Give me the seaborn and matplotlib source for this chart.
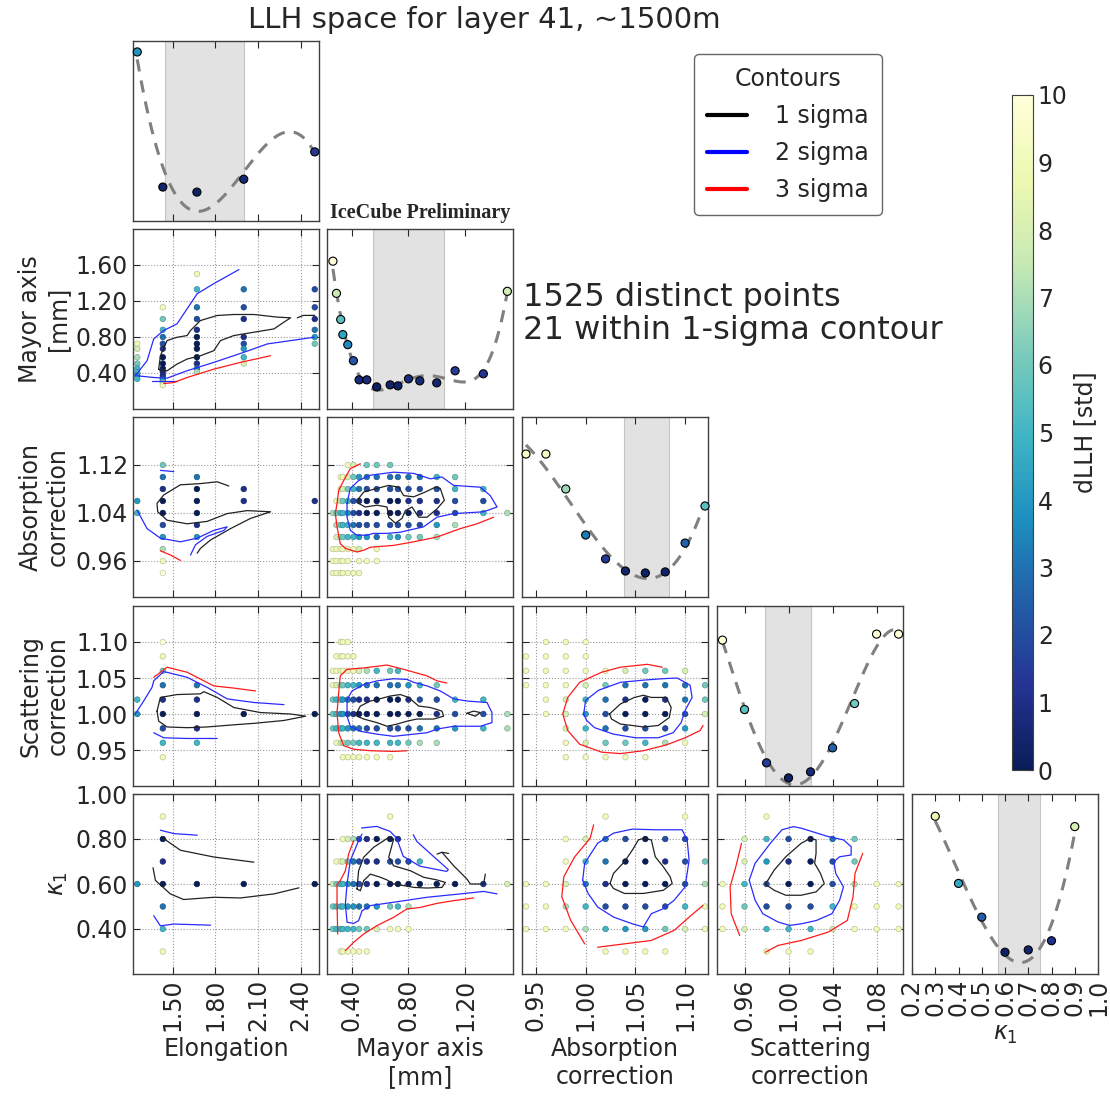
import numpy as np
import pandas as pd
import matplotlib
matplotlib.use("Agg")
import matplotlib.pyplot as plt
import seaborn as sns
from matplotlib.lines import Line2D
from matplotlib.ticker import FormatStrFormatter

# ---------------- parameter grids ----------------
elong = [1.25, 1.43, 1.67, 2.0, 2.5]
mayor = [0.265, 0.29, 0.32, 0.335, 0.37, 0.41, 0.45, 0.505, 0.575, 0.67,
         0.725, 0.80, 0.88, 1.0, 1.13, 1.33, 1.5]
absorp = [0.94, 0.96, 0.98, 1.00, 1.02, 1.04, 1.06, 1.08, 1.10, 1.12]
scatt = [0.94, 0.96, 0.98, 1.00, 1.02, 1.04, 1.06, 1.08, 1.10]
kappa = [0.3, 0.4, 0.5, 0.6, 0.7, 0.8, 0.9]

# ---------------- 1D profiles (dLLH) ----------------
elong_prof = [3.89, 0.43, 0.3, 0.63, 1.33]
mayor_prof = [10.2, 7.64, 5.56, 4.36, 3.56, 2.28, 0.76, 0.76, 0.2, 0.36,
              0.28, 0.84, 0.68, 0.52, 1.48, 1.24, 7.8]
absorp_prof = [9.45, 9.45, 6.76, 3.22, 1.38, 0.45, 0.3, 0.38, 2.6, 5.45]
scatt_prof = [10.84, 5.53, 1.45, 0.3, 0.76, 2.6, 5.99, 11.3, 11.3]
kappa_prof = [8.6, 4.5, 2.44, 0.3, 0.44, 1.0, 7.97]

# 1-sigma intervals (shaded band)
elong_1s = (1.447, 2.0)
mayor_1s = (0.55, 1.05)
absorp_1s = (1.039, 1.084)
scatt_1s = (0.979, 1.02)
kappa_1s = (0.571, 0.749)

# ---------------- 2D tables, rows from top (high y) to bottom ----------------
elong_mayor = [
    "- - 9 - -", "- - 5 3 2", "- 9 3 2 2", "- 6 2 1 1", "- 5 1 - 3",
    "- 3 0 1 4", "9 2 0 2 6", "8 1 0 4 -", "7 0 0 5 -", "6 0 1 8 -",
    "5 0 3 - -", "5 1 7 - -", "4 1 - - -", "5 2 - - -", "- 4 - - -",
    "- 7 - - -", "- 9 - - -"]
elong_absorp = [
    "- 6 - - -", "- 3 3 - -", "- 1 0 1 -", "4 0 0 1 1", "5 0 0 - -",
    "- 2 1 - -", "- 4 4 - -", "- 7 - - -", "- 9 - - -", "- 10 - - -"]
elong_scatt = [
    "- 10 - - -", "- 9 - - -", "- 6 - - -", "- 3 3 - -", "5 1 1 - -",
    "4 0 0 0 0", "- 2 1 - -", "- 5 5 - -", "- 9 - - -"]
elong_kappa = [
    "- 9 - - -", "- 0 - - -", "- 1 - - -", "4 0 0 0 0", "- 3 - - -",
    "- 5 - - -", "- 9 - - -"]
mayor_absorp = [
    "- - - - 9 8 - 6 6 6 - - - - - - -",
    "- - 9 9 8 6 4 3 3 3 3 3 3 5 6 - -",
    "- - 9 8 6 5 3 2 2 2 2 2 2 2 5 5 -",
    "- 9 8 6 5 2 1 0 0 0 0 1 1 1 2 2 -",
    "7 6 5 5 4 2 1 0 0 0 0 0 1 1 2 5 7",
    "- 7 6 5 5 3 2 2 2 2 2 2 2 4 7 - -",
    "- 8 7 6 5 5 4 4 3 5 4 6 6 7 - - -",
    "9 9 9 9 9 9 8 - 9 - - - - - - - -",
    "9 9 9 9 9 - 9 9 9 - - - - - - - -",
    "9 9 9 9 9 9 9 - - - - - - - - - -"]
mayor_scatt = [
    "- - 9 9 9 - - - - - - - - - - - -",
    "- 9 9 9 9 9 - - - - - - - - - - -",
    "9 9 9 9 9 9 8 7 5 6 5 - - - - - -",
    "9 8 7 6 5 5 4 3 3 3 3 4 5 6 - - -",
    "6 5 5 4 3 2 1 1 0 0 0 1 2 2 5 5 -",
    "6 5 4 4 2 1 0 0 0 0 0 0 0 1 2 2 7",
    "6 5 5 5 4 3 3 2 2 2 2 2 3 3 4 5 7",
    "- 9 8 7 6 6 5 5 5 5 5 6 7 7 - - -",
    "- - - 9 9 9 9 9 9 9 - - - - - - -"]
mayor_kappa = [
    "- - - - - - - - - 9 - - - - - - -",
    "- - - 9 8 7 2 1 0 0 1 - - - - - -",
    "- 9 9 8 6 3 2 1 1 2 2 2 5 - - - -",
    "8 6 5 5 4 3 2 1 0 0 0 0 0 0 0 1 8",
    "6 5 5 5 4 4 3 3 4 6 5 7 - - - - -",
    "6 5 5 5 5 5 6 6 8 9 9 9 - - - - -",
    "- - 9 9 9 9 9 9 - - - - - - - - -"]
absorp_scatt = [
    "- 9 9 9 - - - - - -", "9 9 9 9 - - - - - -", "9 9 9 9 9 8 6 6 8 -",
    "9 9 9 8 6 3 3 3 3 6", "- 9 8 5 3 1 0 1 3 6", "- 9 8 4 2 0 0 0 2 8",
    "- - 8 5 3 2 2 2 4 -", "- - 9 8 6 6 5 7 9 -", "- - 9 9 9 9 9 - - -"]
absorp_kappa = [
    "- - - - 9 - - - 9 -", "- - 9 8 3 2 0 2 2 -", "- - 9 5 3 0 0 1 2 6",
    "9 9 8 3 1 0 0 0 2 7", "9 9 7 5 2 2 2 2 5 9", "9 9 9 7 5 4 4 6 8 9",
    "- - - - 9 9 9 9 - -"]
scatt_kappa = [
    "- - 9 - - - - - -", "- 8 5 2 0 3 6 - -", "- 8 4 1 0 2 6 - -",
    "9 5 2 0 0 2 7 9 9", "9 6 2 2 2 5 9 9 9", "9 8 5 5 5 8 9 9 9",
    "- - 9 9 9 - - - -"]

# ---------------- contour traces (level -> polylines) ----------------
cont_elong_mayor = [
    (1, [(1.401, 0.443), (1.413, 0.592), (1.46, 0.76), (1.53, 0.797), (1.601, 0.816),
         (1.625, 0.872), (1.695, 0.983), (1.813, 1.039), (1.93, 1.05), (2.071, 1.05),
         (2.236, 1.021), (2.33, 1.013), (2.283, 0.965), (2.213, 0.89), (2.071, 0.853),
         (1.93, 0.816), (1.836, 0.76), (1.789, 0.648), (1.695, 0.592), (1.601, 0.555),
         (1.53, 0.499), (1.46, 0.425), (1.413, 0.425), (1.401, 0.443)]),
    (1, [(2.377, 1.013), (2.42, 1.04), (2.5, 1.04)]),
    (2, [(1.236, 0.369), (1.319, 0.536), (1.366, 0.779), (1.436, 0.872), (1.53, 0.946),
         (1.625, 1.17), (1.672, 1.281), (1.789, 1.393), (1.966, 1.549)]),
    (2, [(1.248, 0.369), (1.366, 0.35), (1.46, 0.343), (1.601, 0.425), (1.789, 0.518),
         (2.001, 0.63), (2.166, 0.723), (2.33, 0.76), (2.495, 0.797)]),
    (2, [(1.354, 0.313), (1.53, 0.313)]),
    (3, [(1.436, 0.283), (1.507, 0.294), (1.601, 0.35), (1.789, 0.443), (1.977, 0.518),
         (2.189, 0.592)]),
]
cont_elong_absorp = [
    (1, [(1.895, 1.085), (1.813, 1.092), (1.695, 1.089), (1.554, 1.087), (1.436, 1.07),
         (1.389, 1.056), (1.394, 1.042), (1.46, 1.028), (1.601, 1.022), (1.742, 1.026),
         (1.883, 1.039), (2.024, 1.044), (2.189, 1.042), (2.048, 1.031), (1.907, 1.014),
         (1.766, 0.995), (1.695, 0.981), (1.672, 0.973)]),
    (2, [(1.248, 1.045), (1.319, 1.014), (1.413, 0.998), (1.554, 0.992), (1.672, 0.998),
         (1.789, 1.011), (1.883, 1.017), (1.86, 1.011), (1.742, 1.001), (1.66, 0.987),
         (1.625, 0.970)]),
    (2, [(1.413, 1.111), (1.507, 1.109)]),
    (3, [(1.413, 0.977), (1.483, 0.97), (1.554, 0.961)]),
]
cont_elong_scatt = [
    (1, [(1.389, 1.004), (1.413, 1.023), (1.53, 1.027), (1.695, 1.028), (1.719, 1.031),
         (1.813, 1.023), (1.93, 1.009), (2.118, 1.002), (2.33, 1.0), (2.436, 0.997),
         (2.283, 0.991), (2.071, 0.987), (1.93, 0.985), (1.742, 0.982), (1.601, 0.981),
         (1.46, 0.982), (1.401, 0.990), (1.389, 1.004)]),
    (2, [(1.236, 1.0), (1.295, 1.018), (1.354, 1.037), (1.366, 1.046), (1.436, 1.059),
         (1.601, 1.051), (1.742, 1.037), (1.883, 1.021), (2.071, 1.016), (2.283, 1.013)]),
    (2, [(1.366, 0.974), (1.436, 0.967), (1.601, 0.966), (1.813, 0.966)]),
    (3, [(1.366, 1.051), (1.46, 1.065), (1.601, 1.058), (1.789, 1.039), (1.93, 1.036),
         (2.083, 1.032)]),
]
cont_elong_kappa = [
    (1, [(1.436, 0.802), (1.554, 0.75), (1.789, 0.72), (2.071, 0.697)]),
    (1, [(1.361, 0.672), (1.378, 0.616), (1.483, 0.556), (1.577, 0.531), (1.789, 0.541),
         (1.977, 0.538), (2.213, 0.556), (2.389, 0.583)]),
    (2, [(1.413, 0.839), (1.507, 0.824), (1.672, 0.817)]),
    (2, [(1.366, 0.459), (1.413, 0.414), (1.507, 0.422), (1.766, 0.417)]),
]
cont_mayor_absorp = [
    (1, [(0.447, 1.064), (0.483, 1.075), (0.577, 1.081), (0.66, 1.086), (0.73, 1.083),
         (0.766, 1.069), (0.837, 1.067), (0.919, 1.075), (0.99, 1.083), (1.025, 1.081),
         (1.054, 1.061), (1.002, 1.047), (0.931, 1.033), (0.872, 1.033), (0.825, 1.05),
         (0.778, 1.044), (0.754, 1.031), (0.707, 1.023), (0.66, 1.033), (0.648, 1.05),
         (0.577, 1.053), (0.494, 1.05), (0.447, 1.056), (0.447, 1.064)]),
    (2, [(0.365, 1.056), (0.388, 1.081), (0.447, 1.094), (0.53, 1.103), (0.695, 1.108),
         (0.837, 1.106), (0.955, 1.097), (1.037, 1.1), (1.12, 1.086), (1.309, 1.083),
         (1.379, 1.069), (1.427, 1.05), (1.332, 1.042), (1.12, 1.039), (1.002, 1.033),
         (0.907, 1.017), (0.742, 1.008), (0.648, 1.006), (0.553, 1.006), (0.506, 1.003),
         (0.435, 1.003), (0.388, 1.011), (0.365, 1.033), (0.365, 1.056)]),
    (3, [(0.459, 1.122), (0.388, 1.114), (0.341, 1.094), (0.306, 1.078), (0.294, 1.056),
         (0.282, 1.039), (0.294, 1.017), (0.317, 0.989), (0.353, 0.981), (0.435, 0.975),
         (0.483, 0.978), (0.53, 0.983), (0.695, 0.986), (0.837, 0.992), (1.002, 1.0),
         (1.167, 1.014), (1.285, 1.022), (1.403, 1.033)]),
]
cont_mayor_scatt = [
    (1, [(0.435, 1.002), (0.459, 1.011), (0.53, 1.018), (0.577, 1.02), (0.671, 1.025),
         (0.742, 1.027), (0.801, 1.023), (0.872, 1.011), (0.955, 1.009), (1.037, 1.004),
         (1.049, 0.997), (0.978, 0.993), (0.86, 0.993), (0.789, 0.99), (0.719, 0.986),
         (0.648, 0.983), (0.577, 0.988), (0.483, 0.993), (0.435, 0.997), (0.435, 1.002)]),
    (1, [(1.214, 1.001), (1.261, 1.004), (1.309, 1.002), (1.273, 0.997), (1.214, 1.001)]),
    (2, [(0.365, 0.997), (0.365, 1.02), (0.4, 1.032), (0.483, 1.041), (0.577, 1.046),
         (0.695, 1.049), (0.789, 1.048), (0.837, 1.044), (0.931, 1.039), (1.025, 1.032),
         (1.12, 1.021), (1.214, 1.018), (1.356, 1.016), (1.391, 1.002), (1.391, 0.988),
         (1.309, 0.983), (1.12, 0.983), (1.002, 0.979), (0.931, 0.974), (0.695, 0.969),
         (0.577, 0.972), (0.459, 0.976), (0.388, 0.983), (0.365, 0.997)]),
    (3, [(1.072, 1.043), (1.002, 1.046), (0.931, 1.053), (0.766, 1.062), (0.648, 1.068),
         (0.483, 1.064), (0.365, 1.062), (0.317, 1.053), (0.306, 1.03), (0.294, 1.002),
         (0.306, 0.974), (0.341, 0.956), (0.412, 0.951), (0.53, 0.949), (0.695, 0.948),
         (0.789, 0.949)]),
]
cont_mayor_kappa = [
    (1, [(0.435, 0.578), (0.447, 0.659), (0.483, 0.719), (0.553, 0.763), (0.66, 0.807),
         (0.695, 0.8), (0.66, 0.719), (0.695, 0.681), (0.813, 0.659), (0.907, 0.63),
         (1.002, 0.618), (1.061, 0.607), (1.037, 0.585), (0.931, 0.582), (0.837, 0.585),
         (0.766, 0.593), (0.695, 0.6), (0.648, 0.618), (0.601, 0.63), (0.53, 0.644),
         (0.483, 0.615), (0.459, 0.57), (0.435, 0.578)]),
    (1, [(1.037, 0.741), (1.12, 0.681), (1.214, 0.622), (1.238, 0.6), (1.332, 0.6),
         (1.344, 0.644)]),
    (1, [(1.002, 0.733), (1.037, 0.741), (1.084, 0.736)]),
    (2, [(0.468, 0.849), (0.575, 0.856), (0.669, 0.834), (0.716, 0.804), (0.763, 0.723),
         (0.881, 0.679), (1.07, 0.656), (1.082, 0.664), (0.976, 0.723), (0.858, 0.79),
         (0.834, 0.819)]),
    (2, [(0.471, 0.822), (0.447, 0.793), (0.388, 0.704), (0.365, 0.6), (0.353, 0.511),
         (0.365, 0.43), (0.412, 0.425), (0.447, 0.437), (0.471, 0.481), (0.53, 0.504),
         (0.695, 0.519), (0.931, 0.541), (1.167, 0.556), (1.332, 0.567), (1.427, 0.556)]),
    (3, [(0.412, 0.793), (0.376, 0.733), (0.353, 0.659), (0.317, 0.615), (0.294, 0.6),
         (0.294, 0.511), (0.299, 0.378)]),
    (3, [(0.353, 0.304), (0.388, 0.326), (0.412, 0.341), (0.483, 0.378), (0.577, 0.415),
         (0.695, 0.452), (0.789, 0.489), (0.884, 0.496), (1.002, 0.514), (1.12, 0.526),
         (1.261, 0.538)]),
]
cont_absorp_scatt = [
    (1, [(1.024, 1.0), (1.035, 1.014), (1.049, 1.023), (1.058, 1.026), (1.066, 1.023),
         (1.081, 1.023), (1.086, 1.009), (1.084, 0.995), (1.073, 0.984), (1.058, 0.982),
         (1.047, 0.984), (1.035, 0.986), (1.026, 0.993), (1.024, 1.0)]),
    (2, [(0.998, 1.0), (1.0, 1.019), (1.013, 1.033), (1.035, 1.044), (1.058, 1.047),
         (1.077, 1.049), (1.092, 1.05), (1.105, 1.04), (1.107, 1.023), (1.1, 1.005),
         (1.096, 0.988), (1.088, 0.974), (1.073, 0.967), (1.05, 0.967), (1.028, 0.972),
         (1.009, 0.981), (1.001, 0.991), (0.998, 1.0)]),
    (3, [(1.077, 1.065), (1.062, 1.069), (1.035, 1.065), (1.016, 1.058), (0.994, 1.044),
         (0.982, 1.023), (0.977, 1.0), (0.982, 0.977), (0.994, 0.958), (1.016, 0.947),
         (1.035, 0.945), (1.058, 0.949), (1.081, 0.957), (1.1, 0.967), (1.115, 0.977),
         (1.118, 0.984)]),
]
cont_absorp_kappa = [
    (1, [(1.0245, 0.602), (1.028, 0.647), (1.039, 0.699), (1.047, 0.751), (1.053, 0.796),
         (1.058, 0.803), (1.066, 0.796), (1.07, 0.721), (1.078, 0.677), (1.085, 0.632),
         (1.087, 0.602), (1.078, 0.572), (1.058, 0.558), (1.039, 0.558), (1.028, 0.58),
         (1.0245, 0.602)]),
    (2, [(0.997, 0.617), (0.999, 0.692), (1.012, 0.781), (1.028, 0.826), (1.047, 0.844),
         (1.07, 0.841), (1.097, 0.841), (1.102, 0.796), (1.104, 0.706), (1.1, 0.587),
         (1.089, 0.528), (1.078, 0.49), (1.066, 0.468), (1.058, 0.409), (1.047, 0.423),
         (1.028, 0.453), (1.012, 0.498), (1.0025, 0.558), (0.997, 0.617)]),
    (3, [(1.008, 0.863), (1.0045, 0.803), (0.989, 0.721), (0.978, 0.632), (0.976, 0.543),
         (0.985, 0.438), (0.999, 0.334)]),
    (3, [(1.012, 0.319), (1.039, 0.334), (1.066, 0.349), (1.089, 0.394), (1.108, 0.468),
         (1.118, 0.505)]),
]
cont_scatt_kappa = [
    (1, [(0.979, 0.599), (0.987, 0.662), (0.9975, 0.721), (1.0115, 0.781), (1.02, 0.803),
         (1.025, 0.796), (1.025, 0.736), (1.0237, 0.692), (1.029, 0.647), (1.0325, 0.602),
         (1.025, 0.565), (1.0115, 0.55), (0.9975, 0.55), (0.987, 0.572), (0.979, 0.599)]),
    (2, [(0.9643, 0.617), (0.9696, 0.692), (0.9835, 0.781), (0.994, 0.841), (1.0045, 0.855),
         (1.0115, 0.848), (1.0359, 0.811), (1.0499, 0.796), (1.0569, 0.766), (1.0569, 0.729),
         (1.0464, 0.721), (1.0412, 0.699), (1.0429, 0.647), (1.0499, 0.587), (1.0464, 0.528),
         (1.0394, 0.468), (1.0254, 0.438), (1.0115, 0.423), (1.001, 0.416), (0.9905, 0.431),
         (0.9766, 0.468), (0.9696, 0.528), (0.9643, 0.617)]),
    (3, [(0.9573, 0.781), (0.9521, 0.677), (0.9469, 0.587), (0.9479, 0.468), (0.9556, 0.371)]),
    (3, [(0.979, 0.297), (0.9905, 0.327), (1.0115, 0.349), (1.0359, 0.386), (1.0534, 0.438),
         (1.0586, 0.543), (1.0604, 0.647), (1.0674, 0.736)]),
]

# ---------------- axis setup ----------------
names = ["Elongation", "Mayor axis\n[mm]", "Absorption\ncorrection",
         "Scattering\ncorrection", r"$\kappa_1$"]
grids = [elong, mayor, absorp, scatt, kappa]
profiles = [elong_prof, mayor_prof, absorp_prof, scatt_prof, kappa_prof]
bands = [elong_1s, mayor_1s, absorp_1s, scatt_1s, kappa_1s]
fit_deg = [3, 4, 3, 4, 3]
xlims = [(1.22, 2.53), (0.223, 1.54), (0.936, 1.123), (0.935, 1.104), (0.2, 1.0)]
ylims = [None, (0.0, 2.0), (0.90, 1.20), (0.90, 1.15), (0.2, 1.0)]
diag_ylims = [(-0.44, 4.17), (-1.56, 12.76), (-1.55, 12.3), (-0.32, 13.45), (-1.03, 9.96)]
xticks = [[1.5, 1.8, 2.1, 2.4], [0.4, 0.8, 1.2], [0.95, 1.0, 1.05, 1.10],
          [0.96, 1.0, 1.04, 1.08], [0.2, 0.3, 0.4, 0.5, 0.6, 0.7, 0.8, 0.9, 1.0]]
yticks = [None, [0.4, 0.8, 1.2, 1.6], [0.96, 1.04, 1.12], [0.95, 1.0, 1.05, 1.10],
          [0.4, 0.6, 0.8, 1.0]]

tables = {(1, 0): elong_mayor, (2, 0): elong_absorp, (3, 0): elong_scatt,
          (4, 0): elong_kappa, (2, 1): mayor_absorp, (3, 1): mayor_scatt,
          (4, 1): mayor_kappa, (3, 2): absorp_scatt, (4, 2): absorp_kappa,
          (4, 3): scatt_kappa}
contours = {(1, 0): cont_elong_mayor, (2, 0): cont_elong_absorp,
            (3, 0): cont_elong_scatt, (4, 0): cont_elong_kappa,
            (2, 1): cont_mayor_absorp, (3, 1): cont_mayor_scatt,
            (4, 1): cont_mayor_kappa, (3, 2): cont_absorp_scatt,
            (4, 2): cont_absorp_kappa, (4, 3): cont_scatt_kappa}
level_colors = {1: "#222222", 2: "#2a2aff", 3: "#ff1a1a"}

sns.set_style("ticks")
plt.rcParams["font.family"] = ["DejaVu Sans"]
plt.rcParams["mathtext.fontset"] = "dejavusans"
cmap = plt.get_cmap("YlGnBu_r")
norm = plt.Normalize(0, 10)
FS = 17

W, H = 1110, 1098
col_left = [133, 327, 522, 717, 912]
row_top = [41, 229, 417, 606, 794]
pw, ph = 186, 180

fig = plt.figure(figsize=(W / 100, H / 100), dpi=100)


def table_frame(lines, xgrid, ygrid):
    xs, ys, ds = [], [], []
    for yv, line in zip(ygrid[::-1], lines):
        toks = line.split()
        assert len(toks) == len(xgrid), line
        for xv, t in zip(xgrid, toks):
            if t != "-":
                xs.append(xv)
                ys.append(yv)
                ds.append(float(t))
    return pd.DataFrame({"x": xs, "y": ys, "d": ds})


for r in range(5):
    for c in range(r + 1):
        ax = fig.add_axes([col_left[c] / W, 1 - (row_top[r] + ph) / H, pw / W, ph / H])
        if r == c:
            lo, hi = bands[c]
            ax.axvspan(lo, hi, facecolor="#e2e2e2", edgecolor="#c4c4c4", lw=0.8, zorder=0)
            g = np.array(grids[c])
            p = np.array(profiles[c])
            coef = np.polyfit(g, p, fit_deg[c])
            xf = np.linspace(g.min(), g.max(), 300)
            ax.plot(xf, np.polyval(coef, xf), color="0.5", lw=2.2,
                    linestyle=(0, (4, 3)), zorder=2)
            df = pd.DataFrame({"x": g, "y": p, "d": np.clip(p, 0, 10)})
            sns.scatterplot(data=df, x="x", y="y", hue="d", palette="YlGnBu_r",
                            hue_norm=(0, 10), s=34, edgecolor="k", linewidth=0.8,
                            legend=False, ax=ax, zorder=3, clip_on=False)
            ax.set_ylim(diag_ylims[c])
            ax.set_yticks([])
        else:
            df = table_frame(tables[(r, c)], grids[c], grids[r])
            edges = np.array([cmap(norm(v)) for v in df["d"]])
            edges[:, :3] *= 0.78
            sns.scatterplot(data=df, x="x", y="y", hue="d", palette="YlGnBu_r",
                            hue_norm=(0, 10), s=16, edgecolor=edges, linewidth=0.5,
                            legend=False, ax=ax, zorder=2)
            for lvl, pts in contours[(r, c)]:
                xs, ys = zip(*pts)
                ax.plot(xs, ys, color=level_colors[lvl], lw=0.9, zorder=3)
            ax.set_ylim(ylims[r])
            ax.set_yticks(yticks[r])
            ax.yaxis.set_major_formatter(FormatStrFormatter("%.2f"))
            ax.grid(True, linestyle=":", color="0.6", linewidth=0.8)
            ax.set_axisbelow(True)

        ax.set_xlim(xlims[c])
        ax.set_xticks(xticks[c])
        ax.xaxis.set_major_formatter(FormatStrFormatter("%.1f" if c == 4 else "%.2f"))
        ax.tick_params(direction="in", top=True, right=True, length=5, width=0.8,
                       labelsize=FS, color="0.15")
        for sp in ax.spines.values():
            sp.set_color("0.25")
            sp.set_linewidth(1.0)

        ax.set_xlabel("")
        ax.set_ylabel("")
        if r == 4:
            ax.set_xlabel(names[c], fontsize=FS, labelpad=4)
            for lab in ax.get_xticklabels():
                lab.set_rotation(90)
        else:
            ax.tick_params(labelbottom=False)
        if c == 0 and r > 0:
            ax.set_ylabel(names[r], fontsize=FS, labelpad=4)
        else:
            ax.tick_params(labelleft=False)

# colorbar
cax = fig.add_axes([1012 / W, 1 - 770 / H, 21 / W, 675 / H])
sm = plt.cm.ScalarMappable(norm=norm, cmap=cmap)
cb = fig.colorbar(sm, cax=cax, ticks=range(11))
cb.ax.tick_params(labelsize=FS, direction="in", length=5)
cb.set_label("dLLH [std]", fontsize=FS, labelpad=4)
cb.outline.set_edgecolor("0.25")

# legend
handles = [Line2D([0], [0], color=col, lw=3) for col in ("k", "#0000ff", "#ff0000")]
leg = fig.legend(handles, ["1 sigma", "2 sigma", "3 sigma"], title="Contours",
                 loc="upper left", bbox_to_anchor=(694 / W, 1 - 54 / H),
                 borderaxespad=0, fontsize=FS, title_fontsize=FS, handlelength=1.7,
                 handletextpad=1.2, borderpad=0.55, labelspacing=0.55,
                 edgecolor="0.4", fancybox=True, framealpha=1)
leg.get_frame().set_linewidth(1.0)

# texts
fig.text(484 / W, 1 - 20 / H, "LLH space for layer 41, ~1500m", ha="center",
         va="center", fontsize=21)
fig.text(523 / W, 1 - 314 / H, "1525 distinct points\n21 within 1-sigma contour",
         ha="left", va="center", fontsize=23, linespacing=1.05)
fig.text(420 / W, 1 - 213 / H, "IceCube Preliminary", ha="center", va="center",
         fontsize=14.5, family="Liberation Serif", weight="bold")

fig.savefig("out.png", dpi=100)
